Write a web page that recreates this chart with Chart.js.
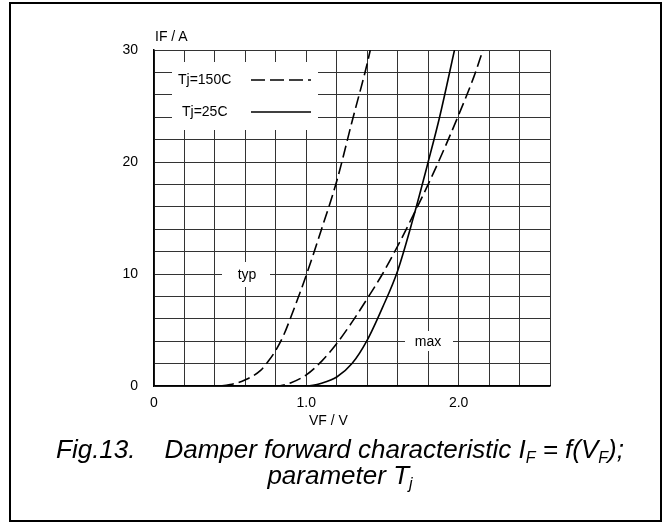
<!DOCTYPE html>
<html>
<head>
<meta charset="utf-8">
<script src="https://cdn.jsdelivr.net/npm/chart.js@4.4.1/dist/chart.umd.min.js"></script>
<style>
  html, body { margin: 0; padding: 0; background: #fff; }
  body { width: 668px; height: 524px; position: relative; overflow: hidden; font-family: "Liberation Sans", Arial, sans-serif; }
  #frame { position: absolute; left: 9px; top: 2px; width: 649px; height: 516px; border: 2px solid #000; }
  #cv { position: absolute; left: 0; top: 0; }
  .lbl { position: absolute; font-size: 14px; color: #000; white-space: nowrap; }
  .cap { position: absolute; left: 40px; width: 600px; text-align: center; white-space: nowrap;
         font-family: "Liberation Sans", Arial, sans-serif; font-style: italic;
         font-size: 26px; line-height: 26px; color: #000; }
  .cap sub { font-size: 16px; vertical-align: -5px; line-height: 0; }
</style>
</head>
<body>
<div id="frame"></div>
<canvas id="cv" width="668" height="440"></canvas>
<div class="lbl" style="left:155px; top:28px;">IF / A</div>
<div class="lbl" style="left:309px; top:412px;">VF / V</div>
<div class="cap" style="top:436px;">Fig.13.&nbsp;&nbsp;&nbsp; Damper forward characteristic I<sub>F</sub> = f(V<sub>F</sub>);</div>
<div class="cap" style="top:462px;">parameter T<sub>j</sub></div>
<script>
// Tj = 150C, typ (dashed, left)
const vf150typ = [0, 0.40, 0.50, 0.60, 0.70, 0.75, 0.80, 0.85, 0.90, 1.00, 1.10, 1.20, 1.30, 1.40, 1.42];
const if150typ = [0, 0.00, 0.12, 0.55, 1.40, 2.20, 3.20, 4.50, 6.20, 9.90, 14.0, 18.3, 23.6, 28.8, 30.0];
// Tj = 150C, max (dashed, middle)
const vf150max = [0, 0.80, 0.90, 1.00, 1.10, 1.20, 1.30, 1.40, 1.50, 1.60, 1.70, 1.80, 1.90, 2.00, 2.10, 2.16];
const if150max = [0, 0.00, 0.30, 1.00, 2.20, 3.80, 5.70, 7.80, 10.0, 12.5, 15.2, 18.0, 21.0, 24.2, 27.6, 30.0];
// Tj = 25C, max (solid)
const vf25max = [0, 1.00, 1.10, 1.20, 1.30, 1.40, 1.50, 1.60, 1.70, 1.80, 1.875, 1.973];
const if25max = [0, 0.00, 0.25, 0.80, 2.00, 4.10, 7.00, 10.3, 14.9, 20.0, 24.0, 30.0];

const xTickLabels = { 0: '0', 1: '1.0', 2: '2.0' };
const yTickLabels = { 0: '0', 10: '10', 20: '20', 30: '30' };
const legendItems = [
  { text: 'Tj=150C', dash: [14, 5] },
  { text: 'Tj=25C', dash: [] }
];

const zip = (xs, ys) => xs.map((x, i) => ({ x, y: ys[i] }));
const FONT = { family: '"Liberation Sans", Arial, sans-serif', size: 14 };

function series(xs, ys, dash) {
  return {
    data: zip(xs, ys),
    showLine: true,
    borderColor: '#000',
    borderWidth: 1.6,
    borderDash: dash,
    pointRadius: 0,
    cubicInterpolationMode: 'monotone',
    fill: false
  };
}

// white label boxes on top of the grid (legend, typ, max)
const annotations = {
  id: 'annotations',
  beforeDatasetsDraw(chart) {
    const { ctx } = chart;
    ctx.save();
    ctx.fillStyle = '#fff';
    ctx.fillRect(172, 62, 146, 68);
    ctx.fillRect(222, 262, 48, 25);
    ctx.fillRect(405, 331, 48, 20);
    ctx.fillStyle = '#000';
    ctx.font = '14px ' + FONT.family;
    ctx.textBaseline = 'middle';
    ctx.textAlign = 'left';
    const rows = [80, 112];
    legendItems.forEach((it, i) => {
      ctx.fillText(it.text, i === 0 ? 178 : 182, rows[i]);
      ctx.beginPath();
      ctx.setLineDash(it.dash);
      ctx.lineWidth = 1.6;
      ctx.moveTo(251, rows[i]);
      ctx.lineTo(311, rows[i]);
      ctx.stroke();
    });
    ctx.setLineDash([]);
    ctx.textAlign = 'center';
    ctx.fillText('typ', 247, 275);
    ctx.fillText('max', 428, 342);
    ctx.restore();
  }
};

new Chart(document.getElementById('cv'), {
  type: 'scatter',
  data: {
    datasets: [
      series(vf150typ, if150typ, [12, 5]),
      series(vf150max, if150max, [12, 5]),
      series(vf25max, if25max, [])
    ]
  },
  options: {
    responsive: false,
    animation: false,
    events: [],
    layout: { padding: { left: 0, right: 118, top: 50, bottom: 24 } },
    plugins: { legend: { display: false }, tooltip: { enabled: false } },
    scales: {
      x: {
        type: 'linear', min: 0, max: 2.6,
        afterFit: s => { s.height = 30; },
        border: { display: true, color: '#000', width: 1.5 },
        grid: { color: '#333', lineWidth: 1, drawTicks: false },
        ticks: {
          stepSize: 0.2, padding: 9, color: '#000', font: FONT, maxRotation: 0, autoSkip: false,
          callback: v => { const k = Math.round(v * 10) / 10; return xTickLabels[k] !== undefined ? xTickLabels[k] : ''; }
        }
      },
      y: {
        type: 'linear', min: 0, max: 30,
        afterFit: s => { s.width = 154; },
        border: { display: true, color: '#000', width: 1.5 },
        grid: { color: '#333', lineWidth: 1, drawTicks: false },
        ticks: {
          stepSize: 2, padding: 16, color: '#000', font: FONT, autoSkip: false,
          callback: v => yTickLabels[v] !== undefined ? yTickLabels[v] : ''
        }
      }
    }
  },
  plugins: [annotations]
});
</script>
</body>
</html>
